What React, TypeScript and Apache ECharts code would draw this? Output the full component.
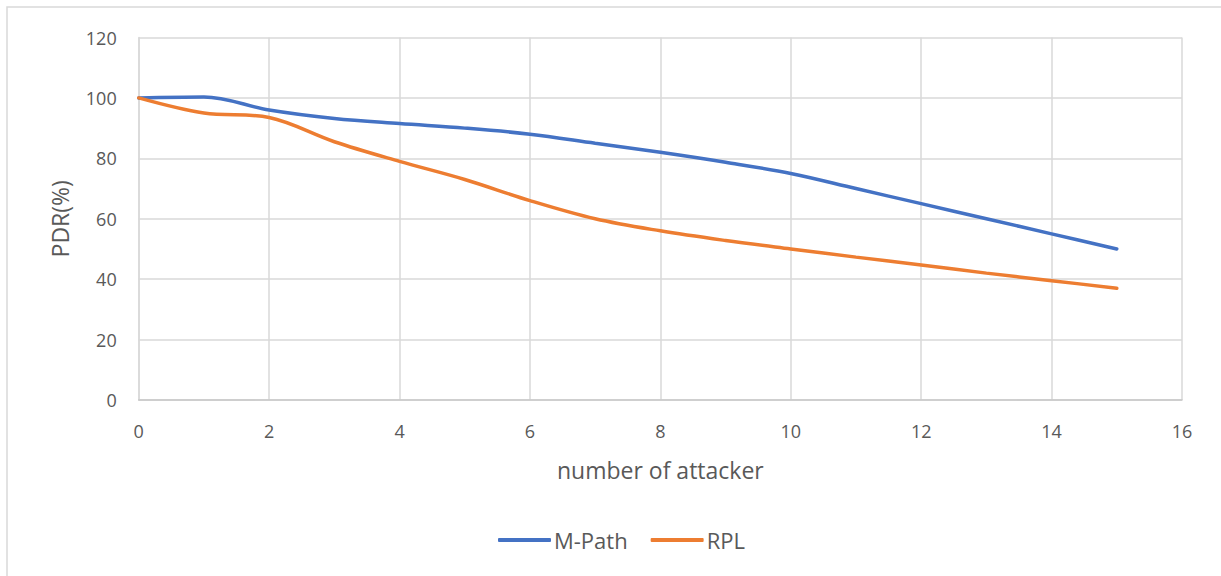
import React, { useEffect, useRef } from "react";
import * as echarts from "echarts";

const xValues = [0, 1, 2, 3, 4, 5, 6, 7, 8, 9, 10, 11, 12, 13, 14, 15];
const mPath = [100, 100.3, 96, 93.2, 91.5, 90, 88, 85, 82, 78.7, 75, 70, 65, 60, 55, 50];
const rpl = [100, 95, 93.5, 85.5, 79, 73, 66, 60, 56, 52.8, 50, 47.3, 44.7, 42, 39.5, 37];
const seriesNames = ["M-Path", "RPL"];
const seriesColors = ["#4472C4", "#ED7D31"];

const FONT = "'Open Sans', 'Noto Sans', sans-serif";
const TEXT = "#595959";
const GRID = "#d9d9d9";

export default function App() {
  const ref = useRef<HTMLDivElement>(null);
  useEffect(() => {
    if (!ref.current) return;
    const chart = echarts.init(ref.current, undefined, { renderer: "svg" });
    const mk = (vals: number[]) => xValues.map((x, i) => [x, vals[i]]);
    chart.setOption({
      animation: false,
      backgroundColor: "#ffffff",
      textStyle: { fontFamily: FONT },
      graphic: [
        {
          type: "rect",
          shape: { x: 7, y: 7, width: 1400, height: 800 },
          style: { fill: "none", stroke: GRID, lineWidth: 1.5 },
          silent: true,
        },
      ],
      grid: { left: 138.7, right: 39, top: 37.5, bottom: 176, containLabel: false },
      legend: {
        left: 493,
        top: 524,
        icon: "roundRect",
        itemWidth: 53,
        itemHeight: 4,
        itemGap: 23,
        textStyle: { color: TEXT, fontSize: 22, fontFamily: FONT, padding: [0, 0, 0, -2] },
        data: seriesNames,
      },
      xAxis: {
        type: "value",
        min: 0,
        max: 16,
        interval: 2,
        name: "number of attacker",
        nameLocation: "middle",
        nameGap: 58,
        nameTextStyle: { color: TEXT, fontSize: 23, fontFamily: FONT },
        axisLine: { show: true, lineStyle: { color: "#c8c8c8", width: 1.5 } },
        axisTick: { show: false },
        axisLabel: { color: TEXT, fontSize: 18, margin: 22, fontFamily: FONT },
        splitLine: { show: true, lineStyle: { color: GRID, width: 1.5 } },
      },
      yAxis: {
        type: "value",
        min: 0,
        max: 120,
        interval: 20,
        name: "PDR(%)",
        nameLocation: "middle",
        nameGap: 67,
        nameTextStyle: { color: TEXT, fontSize: 23, fontFamily: FONT },
        axisLine: { show: true, lineStyle: { color: GRID, width: 1.5 } },
        axisTick: { show: false },
        axisLabel: { color: TEXT, fontSize: 18, margin: 22, fontFamily: FONT },
        splitLine: { show: true, lineStyle: { color: GRID, width: 1.5 } },
      },
      series: [
        {
          name: seriesNames[0],
          type: "line",
          data: mk(mPath),
          smooth: 0.35,
          symbol: "none",
          itemStyle: { color: seriesColors[0] },
          lineStyle: { color: seriesColors[0], width: 3.5, cap: "round" },
        },
        {
          name: seriesNames[1],
          type: "line",
          data: mk(rpl),
          smooth: 0.35,
          symbol: "none",
          itemStyle: { color: seriesColors[1] },
          lineStyle: { color: seriesColors[1], width: 3.5, cap: "round" },
        },
      ],
    });
    return () => chart.dispose();
  }, []);
  return (
    <div
      ref={ref}
      style={{ position: "absolute", left: 0, top: 0, width: 1221, height: 576 }}
    />
  );
}
